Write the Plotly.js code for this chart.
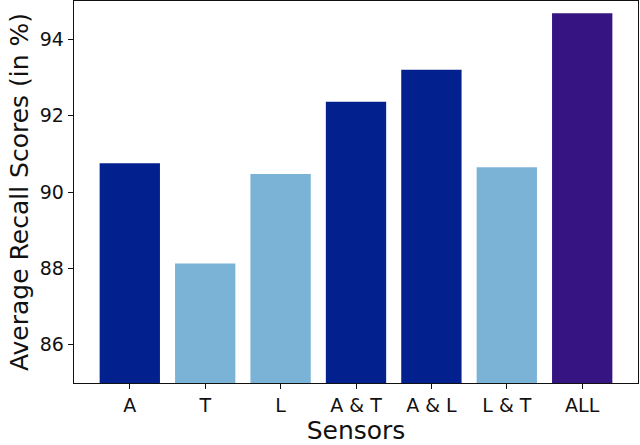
<!DOCTYPE html>
<html><head><meta charset="utf-8">
<script src="https://cdn.plot.ly/plotly-3.0.1.min.js"></script>
<style>body{margin:0;padding:0;background:#fff}#chart{width:640px;height:445px}</style>
</head><body><div id="chart"></div>
<script>
var categories = ["A", "T", "L", "A & T", "A & L", "L & T", "ALL"];
var recall = [90.75, 88.13, 90.47, 92.36, 93.2, 90.65, 94.68];
var barColors = ["#03208f", "#7bb3d7", "#7bb3d7", "#03208f", "#03208f", "#7bb3d7", "#361482"];
var yTicks = [86, 88, 90, 92, 94];

var trace = {
  type: "bar",
  x: categories.map(function(_, i){ return i; }),
  y: recall.map(function(v){ return v - 85; }),
  base: 85,
  width: 0.8,
  marker: {color: barColors, line: {width: 0}},
  hoverinfo: "skip"
};

var layout = {
  width: 640, height: 445,
  margin: {l: 74, r: 2, t: 1, b: 62},
  paper_bgcolor: "#fff", plot_bgcolor: "#fff",
  font: {family: "DejaVu Sans", color: "#111"},
  showlegend: false,
  xaxis: {
    range: [-0.74, 6.74],
    automargin: false,
    tickmode: "array",
    tickvals: categories.map(function(_, i){ return i; }),
    ticktext: categories,
    showline: true, linecolor: "#111", linewidth: 1.3, mirror: true,
    ticks: "outside", ticklen: 5, tickcolor: "#111",
    showgrid: false, zeroline: false,
    tickfont: {size: 19},
    title: {text: "Sensors", font: {size: 25}, standoff: 2}
  },
  yaxis: {
    range: [85, 95],
    automargin: false,
    tickmode: "array",
    tickvals: yTicks,
    ticktext: yTicks.map(String),
    showline: true, linecolor: "#111", linewidth: 1.3, mirror: true,
    ticks: "outside", ticklen: 5, tickcolor: "#111",
    showgrid: false, zeroline: false,
    tickfont: {size: 19},
    title: {text: "Average Recall Scores (in %)", font: {size: 25}, standoff: 4}
  }
};

Plotly.newPlot("chart", [trace], layout, {staticPlot: true, displayModeBar: false});
</script>
</body></html>
